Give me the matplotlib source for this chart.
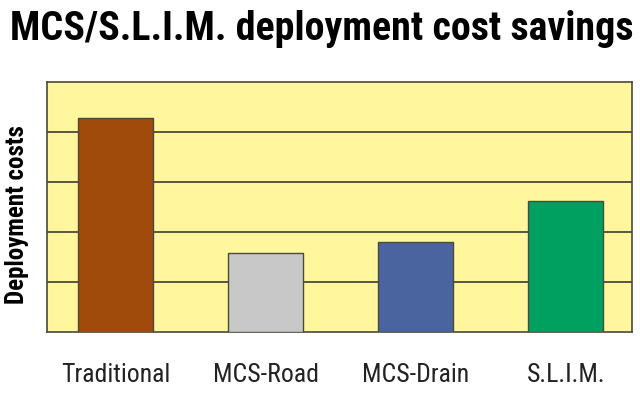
import matplotlib
matplotlib.use('agg')
import matplotlib.pyplot as plt
from matplotlib import font_manager

categories = ['Traditional', 'MCS-Road', 'MCS-Drain', 'S.L.I.M.']
costs = [4.28, 1.58, 1.8, 2.62]
colors = ['#A04A0C', '#C8C8C8', '#4A64A0', '#00A060']

# condensed face if present, otherwise shrink DejaVu so the title still fits
installed = {f.name for f in font_manager.fontManager.ttflist}
if 'Roboto Condensed' in installed:
    plt.rcParams['font.family'] = ['Roboto Condensed', 'DejaVu Sans']
    k = 1.0
else:
    plt.rcParams['font.family'] = ['DejaVu Sans']
    k = 0.75

fig = plt.figure(figsize=(6.4, 3.93), dpi=100)
ax = fig.add_axes([0.0734, 0.1552, 0.9141, 0.636])
ax.set_facecolor('#FFF69E')

ax.bar(range(len(categories)), costs, width=0.5, color=colors,
       edgecolor='#4a4a3a', linewidth=1.0, zorder=3)

ax.set_xlim(-0.46, 3.44)
ax.set_ylim(0, 5)
ax.set_yticks([1, 2, 3, 4])
ax.set_yticklabels([])
ax.yaxis.grid(True, color='#4a4a3a', linewidth=1.3, zorder=1)
ax.tick_params(length=0)
ax.set_xticks(range(len(categories)))
ax.set_xticklabels(categories, fontsize=18.5 * k, color='#222222')
ax.tick_params(axis='x', pad=22)
for s in ax.spines.values():
    s.set_color('#4a4a3a')
    s.set_linewidth(1.2)

ax.set_ylabel('Deployment costs', fontsize=18 * k, fontweight='bold')
ax.yaxis.set_label_coords(-0.031, 0.47)
fig.text(0.503, 0.925, 'MCS/S.L.I.M. deployment cost savings', ha='center', va='center',
         fontsize=28.8 * k, fontweight='bold')

fig.savefig('out.png', dpi=100)
